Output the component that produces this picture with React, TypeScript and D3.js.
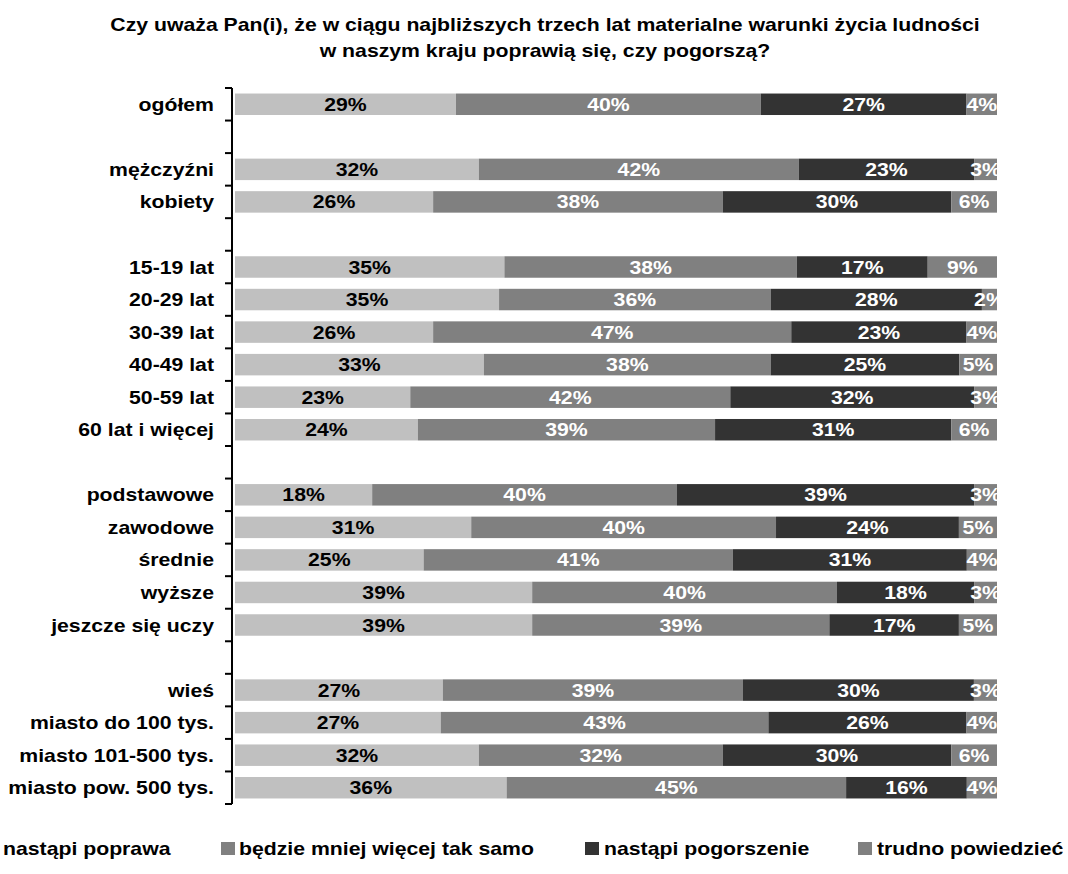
import React from "react";
import * as d3 from "d3";

const categories = [
  "ogółem", "", "mężczyźni", "kobiety", "",
  "15-19 lat", "20-29 lat", "30-39 lat", "40-49 lat", "50-59 lat", "60 lat i więcej", "",
  "podstawowe", "zawodowe", "średnie", "wyższe", "jeszcze się uczy", "",
  "wieś", "miasto do 100 tys.", "miasto 101-500 tys.", "miasto pow. 500 tys.",
];
const poprawa = [29, null, 32, 26, null, 35, 35, 26, 33, 23, 24, null, 18, 31, 25, 39, 39, null, 27, 27, 32, 36];
const takSamo = [40, null, 42, 38, null, 38, 36, 47, 38, 42, 39, null, 40, 40, 41, 40, 39, null, 39, 43, 32, 45];
const pogorszenie = [27, null, 23, 30, null, 17, 28, 23, 25, 32, 31, null, 39, 24, 31, 18, 17, null, 30, 26, 30, 16];
const trudno = [4, null, 3, 6, null, 9, 2, 4, 5, 3, 6, null, 3, 5, 4, 3, 5, null, 3, 4, 6, 4];

const seriesNames = ["nastąpi poprawa", "będzie mniej więcej tak samo", "nastąpi pogorszenie", "trudno powiedzieć"];
const seriesColors = ["#C0C0C0", "#808080", "#333333", "#808080"];
const labelColors = ["#000000", "#FFFFFF", "#FFFFFF", "#FFFFFF"];

const titleLines = [
  "Czy uważa Pan(i), że w ciągu najbliższych trzech lat materialne warunki życia ludności",
  "w naszym kraju poprawią się, czy pogorszą?",
];

const SX = 1.18;

function T(props: { x: number; y: number; anchor?: string; size?: number; fill?: string; children: React.ReactNode }) {
  const { x, y, anchor = "start", size = 18, fill = "#000", children } = props;
  return (
    <text transform={`translate(${x},${y}) scale(${SX},1)`} textAnchor={anchor} fontSize={size} fontWeight="bold" fill={fill}>
      {children}
    </text>
  );
}

export default function App() {
  const W = 1068, H = 874;
  const x0 = 235, x1 = 997;
  const axisX = 232;
  const top = 88, bottom = 804;
  const keys = categories.map((c, i) => `${i}`);
  const y = d3.scaleBand().domain(keys).range([top, bottom]).paddingInner(0.34).paddingOuter(0.17);
  const yStep = d3.scaleBand().domain(keys).range([top, bottom]);
  const x = d3.scaleLinear().domain([0, 1]).range([x0, x1]);
  const series = [poprawa, takSamo, pogorszenie, trudno];
  const font = "Liberation Sans, Arial, sans-serif";

  const rows = categories.map((c, i) => {
    const vals = series.map((s) => s[i]);
    if (vals[0] == null) return null;
    const sum = d3.sum(vals as number[]);
    let acc = 0;
    const segs = vals.map((v, k) => {
      const a = acc / sum;
      acc += v as number;
      return { k, v: v as number, a, b: acc / sum };
    });
    return { i, segs };
  });

  const ticks = d3.range(categories.length + 1).map((i) => top + yStep.step() * i);

  const legendItems = [
    { x: -20, tx: 3 },
    { x: 221, tx: 239 },
    { x: 585, tx: 604 },
    { x: 858, tx: 877 },
  ];

  return (
    <svg width={W} height={H} style={{ display: "block", position: "absolute", left: 0, top: 0 }} fontFamily={font}>
      <defs>
        <clipPath id="plot">
          <rect x={x0} y={0} width={x1 - x0} height={H} />
        </clipPath>
      </defs>
      <rect width={W} height={H} fill="#fff" />
      {titleLines.map((t, i) => (
        <T key={i} x={545} y={31 + i * 26} anchor="middle" size={18}>{t}</T>
      ))}
      <g clipPath="url(#plot)">
        {rows.map((r) =>
          r ? (
            <g key={r.i}>
              {r.segs.map((s) => (
                <rect key={s.k} x={x(s.a)} y={y(`${r.i}`)} width={x(s.b) - x(s.a)} height={y.bandwidth()} fill={seriesColors[s.k]} />
              ))}
              {r.segs.map((s) => (
                <T key={"t" + s.k} x={(x(s.a) + x(s.b)) / 2} y={(y(`${r.i}`) as number) + y.bandwidth() / 2 + 6.5}
                  anchor="middle" size={18} fill={labelColors[s.k]}>{s.v}%</T>
              ))}
            </g>
          ) : null
        )}
      </g>
      <line x1={axisX} x2={axisX} y1={top} y2={bottom} stroke="#000" strokeWidth={2} />
      {ticks.map((t, i) => (
        <line key={i} x1={axisX - 7} x2={axisX} y1={t} y2={t} stroke="#000" strokeWidth={2} />
      ))}
      {categories.map((c, i) =>
        c ? (
          <T key={i} x={214} y={(yStep(`${i}`) as number) + yStep.bandwidth() / 2 + 6.5} anchor="end" size={18}>{c}</T>
        ) : null
      )}
      {seriesNames.map((n, k) => (
        <g key={k}>
          <rect x={legendItems[k].x} y={842} width={14} height={13} fill={seriesColors[k]} />
          <T x={legendItems[k].tx} y={855} size={18}>{n}</T>
        </g>
      ))}
    </svg>
  );
}
